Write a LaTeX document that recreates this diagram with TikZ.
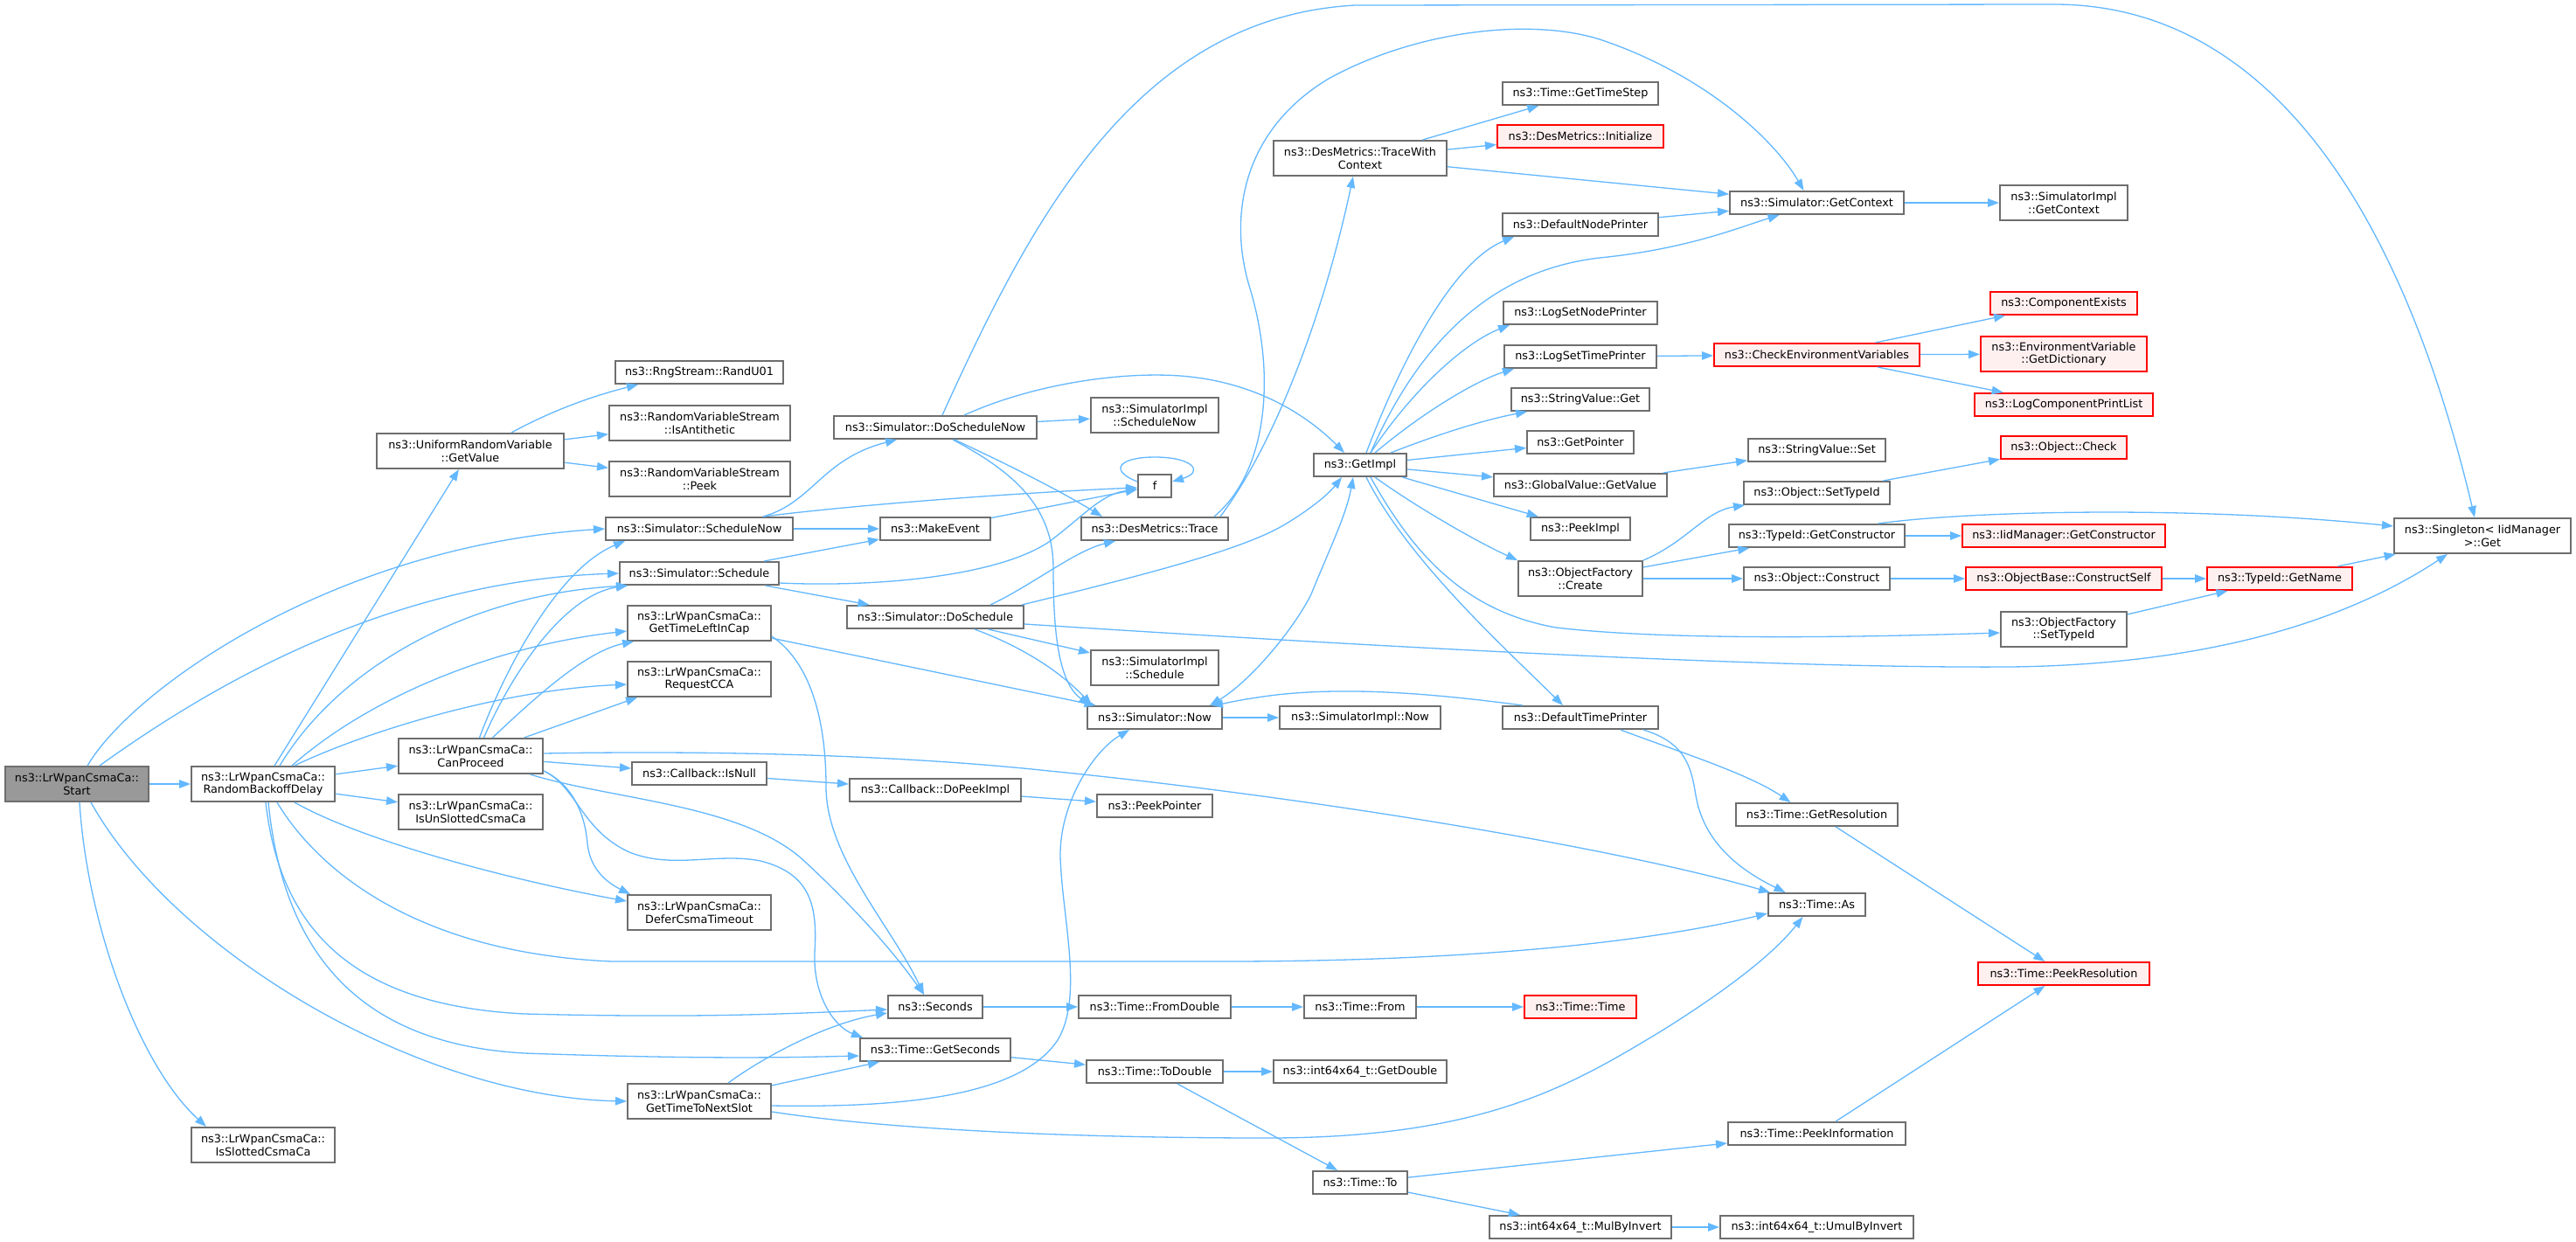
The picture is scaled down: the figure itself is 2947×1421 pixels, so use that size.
\documentclass[tikz,border=0pt]{standalone}
\usepackage{fontspec}
\setmainfont{DejaVu Sans}
\usetikzlibrary{arrows.meta}
\definecolor{edgec}{HTML}{63B8FF}
\definecolor{bord}{HTML}{6E6E6E}
\definecolor{startfill}{HTML}{999999}
\definecolor{redfill}{HTML}{FFF0F0}
\tikzset{
  box/.style={draw=bord, line width=2pt, fill=white, inner sep=0pt, align=center,
    font=\fontsize{12.8}{14.7}\selectfont},
  redbox/.style={box, draw=red, fill=redfill},
  startbox/.style={box, fill=startfill},
  call/.style={draw=edgec, line width=1.3pt, -{Triangle[length=13pt,width=9.5pt]}},
  callboth/.style={draw=edgec, line width=1.3pt, {Triangle[length=13pt,width=9.5pt]}-{Triangle[length=13pt,width=9.5pt]}},
}
\begin{document}
\begin{tikzpicture}[x=1pt,y=-1pt]
\fill[white] (0,0) rectangle (2947,1421);
\useasboundingbox (0,0) rectangle (2947,1421);
% ---------- nodes ----------
\node[startbox, minimum width=164, minimum height=40] (start) at (88,897) {ns3::LrWpanCsmaCa::\\Start};
\node[box, minimum width=164, minimum height=40] (rbd) at (301,897) {ns3::LrWpanCsmaCa::\\RandomBackoffDelay};
\node[box, minimum width=164, minimum height=40] (isslot) at (301,1310) {ns3::LrWpanCsmaCa::\\IsSlottedCsmaCa};
\node[box, minimum width=165, minimum height=40] (canp) at (538.5,865) {ns3::LrWpanCsmaCa::\\CanProceed};
\node[box, minimum width=165, minimum height=40] (isunslot) at (538.5,929) {ns3::LrWpanCsmaCa::\\IsUnSlottedCsmaCa};
\node[box, minimum width=214, minimum height=40] (urv) at (538,516) {ns3::UniformRandomVariable\\::GetValue};
\node[box, minimum width=192, minimum height=26] (randu01) at (800,426) {ns3::RngStream::RandU01};
\node[box, minimum width=207, minimum height=40] (isanti) at (800.5,484) {ns3::RandomVariableStream\\::IsAntithetic};
\node[box, minimum width=207, minimum height=40] (peek) at (800.5,548) {ns3::RandomVariableStream\\::Peek};
\node[box, minimum width=214, minimum height=26] (schednow) at (800,605) {ns3::Simulator::ScheduleNow};
\node[box, minimum width=182, minimum height=26] (sched) at (800,656) {ns3::Simulator::Schedule};
\node[box, minimum width=164, minimum height=40] (gtlic) at (800,713) {ns3::LrWpanCsmaCa::\\GetTimeLeftInCap};
\node[box, minimum width=164, minimum height=40] (reqcca) at (800,777) {ns3::LrWpanCsmaCa::\\RequestCCA};
\node[box, minimum width=154, minimum height=26] (isnull) at (800,885) {ns3::Callback::IsNull};
\node[box, minimum width=164, minimum height=40] (defer) at (800,1044) {ns3::LrWpanCsmaCa::\\DeferCsmaTimeout};
\node[box, minimum width=164, minimum height=40] (gttns) at (800,1260) {ns3::LrWpanCsmaCa::\\GetTimeToNextSlot};
\node[box, minimum width=232, minimum height=26] (dosn) at (1070,489) {ns3::Simulator::DoScheduleNow};
\node[box, minimum width=146, minimum height=40] (simplsn) at (1321,475) {ns3::SimulatorImpl\\::ScheduleNow};
\node[box, minimum width=38, minimum height=26] (f) at (1321,556) {f};
\node[box, minimum width=126, minimum height=26] (makeev) at (1070,605) {ns3::MakeEvent};
\node[box, minimum width=168, minimum height=26] (trace) at (1321,605) {ns3::DesMetrics::Trace};
\node[box, minimum width=202, minimum height=26] (dosched) at (1070,706) {ns3::Simulator::DoSchedule};
\node[box, minimum width=146, minimum height=40] (simplsched) at (1321,764) {ns3::SimulatorImpl\\::Schedule};
\node[box, minimum width=154, minimum height=26] (now) at (1321,821) {ns3::Simulator::Now};
\node[box, minimum width=196, minimum height=26] (dopeek) at (1070,904) {ns3::Callback::DoPeekImpl};
\node[box, minimum width=132, minimum height=26] (peekptr) at (1321,922) {ns3::PeekPointer};
\node[box, minimum width=108, minimum height=26] (seconds) at (1070,1152) {ns3::Seconds};
\node[box, minimum width=172, minimum height=26] (getsec) at (1070,1201) {ns3::Time::GetSeconds};
\node[box, minimum width=174, minimum height=26] (fromdbl) at (1321,1152) {ns3::Time::FromDouble};
\node[box, minimum width=156, minimum height=26] (todbl) at (1321,1226) {ns3::Time::ToDouble};
\node[box, minimum width=198, minimum height=40] (twc) at (1556,181) {ns3::DesMetrics::TraceWith\\Context};
\node[box, minimum width=178, minimum height=26] (timestep) at (1808,107) {ns3::Time::GetTimeStep};
\node[redbox, minimum width=190, minimum height=26] (init) at (1808,156) {ns3::DesMetrics::Initialize};
\node[box, minimum width=199, minimum height=26] (getctx) at (2078.5,232) {ns3::Simulator::GetContext};
\node[box, minimum width=178, minimum height=26] (dnp) at (1808,257) {ns3::DefaultNodePrinter};
\node[box, minimum width=176, minimum height=26] (lsnp) at (1808,358) {ns3::LogSetNodePrinter};
\node[box, minimum width=174, minimum height=26] (lstp) at (1808,408) {ns3::LogSetTimePrinter};
\node[redbox, minimum width=235, minimum height=26] (cev) at (2078.5,406) {ns3::CheckEnvironmentVariables};
\node[box, minimum width=158, minimum height=26] (svget) at (1808,457) {ns3::StringValue::Get};
\node[box, minimum width=122, minimum height=26] (getptr) at (1808,506) {ns3::GetPointer};
\node[box, minimum width=106, minimum height=26] (getimpl) at (1556,532) {ns3::GetImpl};
\node[box, minimum width=157, minimum height=26] (svset) at (2078.5,515) {ns3::StringValue::Set};
\node[box, minimum width=198, minimum height=26] (gvgv) at (1808,555) {ns3::GlobalValue::GetValue};
\node[box, minimum width=167, minimum height=26] (osti) at (2078.5,564) {ns3::Object::SetTypeId};
\node[box, minimum width=114, minimum height=26] (peekimpl) at (1808,605) {ns3::PeekImpl};
\node[box, minimum width=201, minimum height=26] (tigc) at (2078.5,613) {ns3::TypeId::GetConstructor};
\node[box, minimum width=142, minimum height=40] (ofcreate) at (1808,662) {ns3::ObjectFactory\\::Create};
\node[box, minimum width=167, minimum height=26] (oconstruct) at (2078.5,662) {ns3::Object::Construct};
\node[box, minimum width=184, minimum height=26] (simplnow) at (1556,821) {ns3::SimulatorImpl::Now};
\node[box, minimum width=178, minimum height=26] (dtp) at (1808,821) {ns3::DefaultTimePrinter};
\node[box, minimum width=185, minimum height=26] (getres) at (2078.5,932) {ns3::Time::GetResolution};
\node[box, minimum width=111, minimum height=26] (timeas) at (2078.5,1035) {ns3::Time::As};
\node[box, minimum width=128, minimum height=26] (timefrom) at (1556,1152) {ns3::Time::From};
\node[redbox, minimum width=128, minimum height=26] (timetime) at (1808,1152) {ns3::Time::Time};
\node[box, minimum width=198, minimum height=26] (getdbl) at (1556,1226) {ns3::int64x64\_t::GetDouble};
\node[box, minimum width=203, minimum height=26] (peekinfo) at (2078.5,1297) {ns3::Time::PeekInformation};
\node[box, minimum width=108, minimum height=26] (timeto) at (1556,1353) {ns3::Time::To};
\node[box, minimum width=208, minimum height=26] (mulbyinv) at (1808,1404) {ns3::int64x64\_t::MulByInvert};
\node[box, minimum width=221, minimum height=26] (umulbyinv) at (2078.5,1404) {ns3::int64x64\_t::UmulByInvert};
\node[box, minimum width=146, minimum height=40] (simplgc) at (2361,232) {ns3::SimulatorImpl\\::GetContext};
\node[redbox, minimum width=168, minimum height=26] (compex) at (2361,347) {ns3::ComponentExists};
\node[redbox, minimum width=190, minimum height=40] (envdict) at (2361,405) {ns3::EnvironmentVariable\\::GetDictionary};
\node[redbox, minimum width=204, minimum height=26] (lcpl) at (2361,463) {ns3::LogComponentPrintList};
\node[redbox, minimum width=144, minimum height=26] (ocheck) at (2361,512) {ns3::Object::Check};
\node[box, minimum width=202, minimum height=40] (singleton) at (2840,613) {ns3::Singleton< IidManager\\>::Get};
\node[redbox, minimum width=232, minimum height=26] (iidgc) at (2361,613) {ns3::IidManager::GetConstructor};
\node[redbox, minimum width=224, minimum height=26] (cself) at (2361,662) {ns3::ObjectBase::ConstructSelf};
\node[redbox, minimum width=166, minimum height=26] (getname) at (2608,662) {ns3::TypeId::GetName};
\node[box, minimum width=144, minimum height=40] (ofsti) at (2361,720) {ns3::ObjectFactory\\::SetTypeId};
\node[redbox, minimum width=196, minimum height=26] (peekres) at (2361,1114) {ns3::Time::PeekResolution};
% ---------- edges ----------
% Start
\draw[call] (start) -- (rbd);
\draw[call] (start.60) .. controls (150,790) and (380,625) .. (schednow.west);
\draw[call] (start.39) .. controls (220,800) and (430,665) .. (sched.west);
\draw[call] ([xshift=16pt]start.south) .. controls (200,1090) and (480,1255) .. (gttns.west);
\draw[call] ([xshift=3pt]start.south) .. controls (100,1060) and (160,1220) .. ([xshift=-65pt]isslot.north);
% RandomBackoffDelay
\draw[call] (rbd) -- (canp);
\draw[call] (rbd) -- (isunslot);
\draw[call] (rbd) -- (urv);
\draw[call] ([xshift=19pt]rbd.north) .. controls (390,760) and (540,680) .. ([xshift=10pt]sched.south west);
\draw[call] ([xshift=33pt]rbd.north) .. controls (420,800) and (560,740) .. ([yshift=-9pt]gtlic.west);
\draw[call] ([xshift=36pt]rbd.north) .. controls (400,845) and (560,790) .. ([yshift=-6pt]reqcca.west);
\draw[call] ([xshift=36pt]rbd.south) .. controls (420,965) and (600,1010) .. ([yshift=13pt]defer.west);
\draw[call] ([xshift=16pt]rbd.south) .. controls (360,990) and (470,1090) .. (700,1100) -- (1400,1100) .. controls (1700,1100) and (1900,1075) .. ([yshift=4pt]timeas.south west);
\draw[call] ([xshift=3pt]rbd.south) .. controls (320,1060) and (400,1150) .. (600,1160) .. controls (800,1165) and (900,1160) .. ([yshift=-3pt]seconds.west);
\draw[call] ([xshift=6pt]rbd.south) .. controls (325,1100) and (420,1195) .. (600,1205) .. controls (800,1212) and (900,1210) .. ([yshift=-7pt]getsec.west);
% CanProceed
\draw[call] ([xshift=10pt]canp.north) .. controls (580,760) and (640,650) .. ([xshift=-85pt]schednow.south);
\draw[call] ([xshift=15pt]canp.north) .. controls (590,760) and (650,680) .. ([xshift=10pt]sched.south west);
\draw[call] ([xshift=25pt]canp.north) .. controls (610,800) and (670,745) .. ([xshift=8pt]gtlic.south west);
\draw[call] ([xshift=61pt]canp.north) -- ([xshift=12pt]reqcca.south west);
\draw[call] ([yshift=3pt]canp.east) .. controls (850,858) and (1050,866) .. (1200,882) .. controls (1500,912) and (1850,970) .. ([xshift=3pt]timeas.north west);
\draw[call] (canp) -- (isnull);
\draw[call] ([xshift=68pt]canp.south) .. controls (700,915) and (850,920) .. (920,985) .. controls (990,1050) and (1030,1100) .. ([xshift=-13pt]seconds.north);
\draw[call] ([yshift=-17pt]canp.east) .. controls (660,900) and (670,940) .. (672,965) .. controls (675,995) and (695,1010) .. ([xshift=4pt]defer.north west);
\draw[call] ([yshift=-17pt]canp.east) .. controls (660,900) and (665,950) .. (720,975) .. controls (770,995) and (820,975) .. (870,985) .. controls (930,1000) and (935,1040) .. (932,1090) .. controls (930,1140) and (955,1175) .. ([xshift=4pt]getsec.north west);
% UniformRandomVariable
\draw[call] ([xshift=47pt]urv.north) .. controls (640,465) and (690,450) .. ([xshift=-70pt]randu01.south);
\draw[call] (urv) -- (isanti);
\draw[call] (urv) -- (peek);
% ScheduleNow / Schedule
\draw[call] ([xshift=73pt]schednow.north) .. controls (930,575) and (940,525) .. ([xshift=-44pt]dosn.south);
\draw[call] (schednow) -- (makeev);
\draw[call] ([xshift=73pt]schednow.north) .. controls (1000,575) and (1200,562) .. ([yshift=-2pt]f.west);
\draw[call] (sched) -- (makeev);
\draw[call] ([yshift=-11pt]sched.east) .. controls (1000,672) and (1140,660) .. (1200,620) .. controls (1240,590) and (1260,565) .. ([yshift=-4pt]f.west);
\draw[call] (sched) -- (dosched);
\draw[call] (makeev) -- (f);
\draw[call] ([yshift=5pt]f.west) .. controls (1268,538) and (1280,523) .. (1321,523) .. controls (1365,523) and (1378,540) .. ([yshift=5pt]f.east);
% GetTimeLeftInCap
\draw[call] (gtlic) -- (now);
\draw[call] ([yshift=-15pt]gtlic.east) .. controls (930,760) and (945,830) .. (945,900) .. controls (945,980) and (1020,1060) .. ([xshift=-13pt]seconds.north);
% GetTimeToNextSlot
\draw[call] ([xshift=33pt]gttns.north) .. controls (880,1205) and (950,1170) .. ([yshift=-7pt]seconds.west);
\draw[call] (gttns) -- (getsec);
\draw[call] ([yshift=-5pt]gttns.east) .. controls (1050,1268) and (1170,1250) .. (1210,1190) .. controls (1240,1140) and (1215,1050) .. (1213,980) .. controls (1212,920) and (1250,860) .. ([xshift=-29pt]now.south);
\draw[call] ([yshift=-12pt]gttns.east) .. controls (1000,1290) and (1200,1302) .. (1450,1302) .. controls (1700,1302) and (1800,1240) .. (1900,1180) .. controls (1980,1130) and (2030,1090) .. ([xshift=-16pt]timeas.south);
% DoScheduleNow
\draw[call] (dosn) -- (simplsn);
\draw[call] ([xshift=22pt]dosn.south) .. controls (1150,530) and (1210,560) .. ([xshift=-60pt]trace.north);
\draw[call] ([xshift=20pt]dosn.south) .. controls (1160,540) and (1205,580) .. (1205,650) .. controls (1205,720) and (1210,780) .. ([xshift=4pt]now.north west);
\draw[call] ([xshift=33pt]dosn.north) .. controls (1180,440) and (1280,425) .. (1350,430) .. controls (1430,436) and (1490,470) .. ([xshift=-18pt]getimpl.north);
\draw[call] ([xshift=8pt]dosn.north) .. controls (1180,250) and (1300,20) .. (1550,6) -- (2350,5) .. controls (2600,5) and (2750,250) .. ([xshift=-9pt]singleton.north);
% DoSchedule
\draw[call] ([xshift=63pt]dosched.north) .. controls (1180,670) and (1230,630) .. ([xshift=-45pt]trace.south);
\draw[call] ([xshift=99pt]dosched.north) .. controls (1300,660) and (1420,630) .. (1470,600) .. controls (1500,582) and (1520,565) .. ([xshift=-21pt]getimpl.south);
\draw[call] ([yshift=-8pt]dosched.east) .. controls (1500,735) and (2000,765) .. (2300,763) .. controls (2550,760) and (2700,700) .. ([xshift=-40pt]singleton.south);
\draw[call] (dosched) -- (simplsched);
\draw[call] ([xshift=45pt]dosched.south) .. controls (1170,740) and (1215,770) .. ([xshift=6pt]now.north west);
% DesMetrics::Trace
\draw[call] ([xshift=75pt]trace.north) .. controls (1450,520) and (1510,380) .. ([xshift=-8pt]twc.south);
\draw[call] ([xshift=68pt]trace.north) .. controls (1450,540) and (1460,430) .. (1430,330) .. controls (1405,250) and (1420,150) .. (1520,90) .. controls (1620,35) and (1750,20) .. (1830,45) .. controls (1950,85) and (2030,160) .. ([xshift=-15pt]getctx.north);
% TraceWithContext
\draw[call] (twc) -- (timestep);
\draw[call] (twc) -- (init);
\draw[call] (twc) -- (getctx);
\draw[call] (dnp) -- (getctx);
\draw[call] (getctx) -- (simplgc);
% GetImpl
\draw[call] ([xshift=7pt]getimpl.north) .. controls (1600,420) and (1660,300) .. ([xshift=-76pt]dnp.south);
\draw[call] ([xshift=12pt]getimpl.north) .. controls (1620,400) and (1700,310) .. (1830,295) .. controls (1930,285) and (1990,260) .. ([xshift=-43pt]getctx.south);
\draw[call] ([xshift=12pt]getimpl.north) .. controls (1620,440) and (1680,390) .. ([xshift=-81pt]lsnp.south);
\draw[call] ([xshift=17pt]getimpl.north) .. controls (1630,470) and (1690,435) .. ([xshift=-76pt]lstp.south);
\draw[call] ([xshift=35pt]getimpl.north) .. controls (1650,495) and (1700,480) .. ([xshift=-61pt]svget.south);
\draw[call] (getimpl) -- (getptr);
\draw[call] (getimpl) -- (gvgv);
\draw[call] (getimpl) -- (peekimpl);
\draw[call] ([xshift=17pt]getimpl.south) .. controls (1620,580) and (1690,620) .. (ofcreate.north west);
\draw[call] ([xshift=7pt]getimpl.south) .. controls (1610,640) and (1720,740) .. ([xshift=-20pt]dtp.north);
\draw[call] ([xshift=12pt]getimpl.south) .. controls (1620,640) and (1680,700) .. (1780,718) .. controls (1900,732) and (2100,730) .. ([yshift=-4pt]ofsti.west);
\draw[callboth] ([xshift=63pt]now.north) .. controls (1430,780) and (1480,720) .. (1500,680) .. controls (1520,630) and (1540,590) .. ([xshift=-8pt]getimpl.south);
% Now / DefaultTimePrinter
\draw[call] (now) -- (simplnow);
\draw[call] ([xshift=-66pt]dtp.north) .. controls (1650,795) and (1550,785) .. (1460,795) .. controls (1420,800) and (1400,805) .. ([xshift=65pt]now.north);
\draw[call] ([xshift=46pt]dtp.south) .. controls (1920,860) and (2000,885) .. ([xshift=-30pt]getres.north);
\draw[call] ([xshift=72pt]dtp.south) .. controls (1930,850) and (1935,880) .. (1940,910) .. controls (1950,970) and (2000,1000) .. ([xshift=-36pt]timeas.north);
\draw[call] (getres) -- (peekres);
\draw[call] (peekinfo) -- (peekres);
% Time chain
\draw[call] (timeto) -- (peekinfo);
\draw[call] (timeto) -- (mulbyinv);
\draw[call] (mulbyinv) -- (umulbyinv);
\draw[call] (todbl) -- (getdbl);
\draw[call] (todbl) -- (timeto);
\draw[call] (getsec) -- (todbl);
\draw[call] (seconds) -- (fromdbl);
\draw[call] (fromdbl) -- (timefrom);
\draw[call] (timefrom) -- (timetime);
\draw[call] (isnull) -- (dopeek);
\draw[call] (dopeek) -- (peekptr);
% right part
\draw[call] (lstp) -- (cev);
\draw[call] (cev) -- (compex);
\draw[call] (cev) -- (envdict);
\draw[call] (cev) -- (lcpl);
\draw[call] (gvgv) -- (svset);
\draw[call] (ofcreate.north east) .. controls (1930,620) and (1950,585) .. ([xshift=2pt]osti.south west);
\draw[call] (ofcreate) -- (tigc);
\draw[call] (ofcreate) -- (oconstruct);
\draw[call] (osti) -- (ocheck);
\draw[call] (tigc) -- (iidgc);
\draw[call] ([xshift=70pt]tigc.north) .. controls (2250,585) and (2500,578) .. ([yshift=11pt]singleton.west);
\draw[call] (oconstruct) -- (cself);
\draw[call] (cself) -- (getname);
\draw[call] (getname) -- (singleton);
\draw[call] (ofsti) -- (getname);
\end{tikzpicture}
\end{document}
